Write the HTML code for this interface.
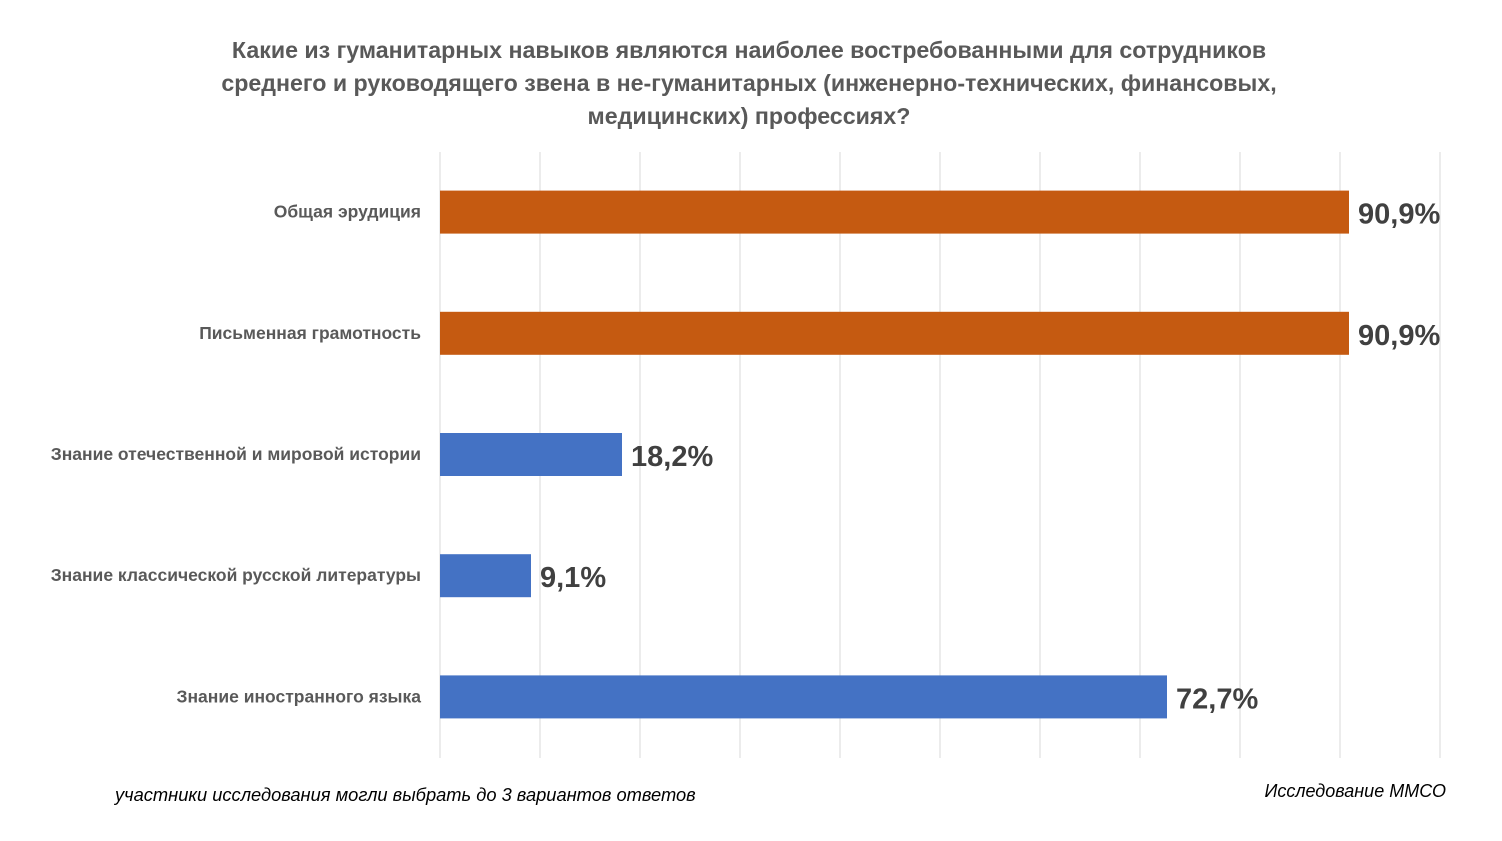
<!DOCTYPE html>
<html><head><meta charset="utf-8"><style>
body{margin:0;background:#fff;width:1502px;height:836px;overflow:hidden;font-family:"Liberation Sans",sans-serif}
</style></head><body>
<svg width="1502" height="836" font-family="Liberation Sans, sans-serif">
<g fill="#595959" font-weight="bold" font-size="23.2" text-anchor="middle">
<text x="749" y="58">Какие из гуманитарных навыков являются наиболее востребованными для сотрудников</text>
<text x="749" y="91">среднего и руководящего звена в не-гуманитарных (инженерно-технических, финансовых,</text>
<text x="749" y="124">медицинских) профессиях?</text>
</g>
<g id="grid"></g>
<g id="bars"></g>
<text x="115" y="801" font-style="italic" font-size="18.3" fill="#000">участники исследования могли выбрать до 3 вариантов ответов</text>
<text x="1446" y="797" font-style="italic" font-size="18" fill="#000" text-anchor="end">Исследование ММСО</text>
</svg>
<script>
const categories=["Общая эрудиция","Письменная грамотность","Знание отечественной и мировой истории","Знание классической русской литературы","Знание иностранного языка"];
const values=[90.9,90.9,18.2,9.1,72.7];
const labels=["90,9%","90,9%","18,2%","9,1%","72,7%"];
const colors=["#C55A11","#C55A11","#4472C4","#4472C4","#4472C4"];
const ticks=[0,10,20,30,40,50,60,70,80,90,100];
const NS="http://www.w3.org/2000/svg";
const x0=440,x1=1440,yTop=152,yBot=758;
const band=(yBot-yTop)/categories.length;
const xs=v=>x0+(x1-x0)*v/100;
const g=document.getElementById('grid'),b=document.getElementById('bars');
ticks.forEach(t=>{const l=document.createElementNS(NS,'line');
l.setAttribute('x1',xs(t));l.setAttribute('x2',xs(t));l.setAttribute('y1',yTop);l.setAttribute('y2',yBot);
l.setAttribute('stroke','#d9d9d9');l.setAttribute('stroke-width','1');


g.appendChild(l);});
categories.forEach((c,i)=>{const cy=yTop+band*(i+0.5);
const r=document.createElementNS(NS,'rect');
r.setAttribute('x',x0);r.setAttribute('y',cy-22);r.setAttribute('height',43);r.setAttribute('width',xs(values[i])-x0);r.setAttribute('fill',colors[i]);


b.appendChild(r);
const t=document.createElementNS(NS,'text');
t.setAttribute('x',421);t.setAttribute('y',cy+5);t.setAttribute('text-anchor','end');t.setAttribute('font-size','17.5');t.setAttribute('font-weight','bold');t.setAttribute('fill','#595959');t.textContent=c;


b.appendChild(t);
const v=document.createElementNS(NS,'text');
v.setAttribute('x',xs(values[i])+9);v.setAttribute('y',cy+11);v.setAttribute('font-size','29');v.setAttribute('font-weight','bold');v.setAttribute('fill','#404040');v.textContent=labels[i];


b.appendChild(v);});
</script>
</body></html>
